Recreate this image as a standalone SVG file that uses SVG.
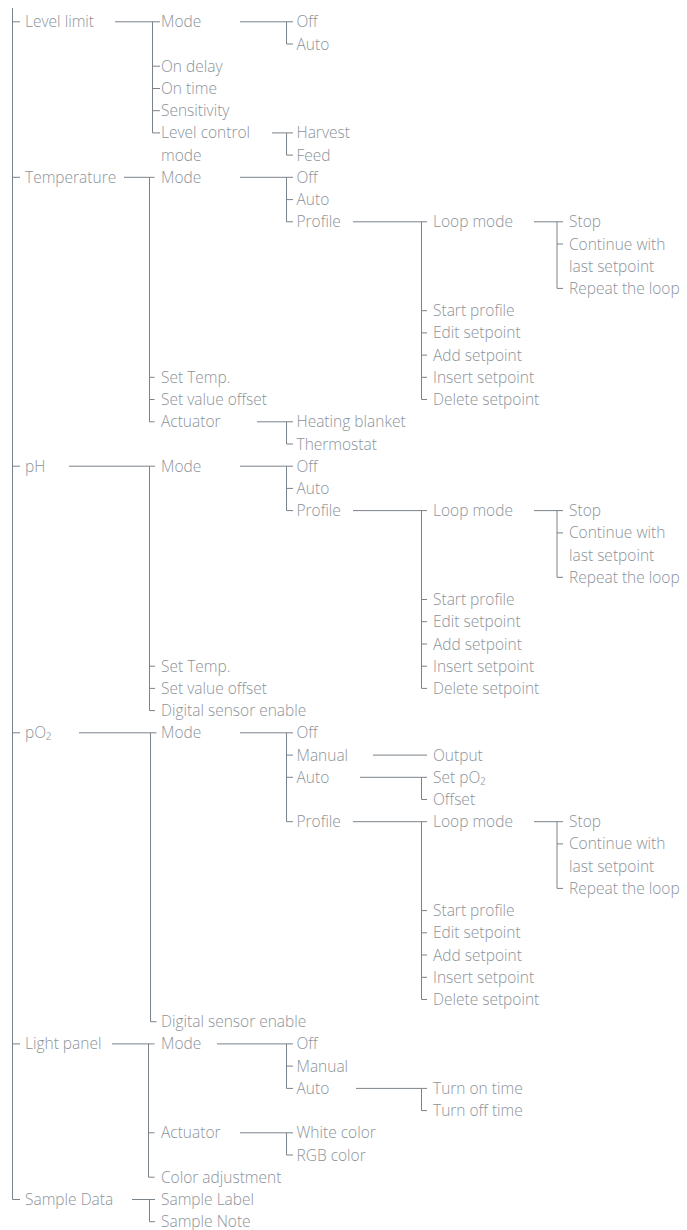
<svg xmlns="http://www.w3.org/2000/svg" width="687" height="1230" viewBox="0 0 687 1230">
<style>
.t{font-family:"Open Sans","Noto Sans","DejaVu Sans",sans-serif;font-size:15.5px;font-weight:300;fill:#8c939a}
.c{stroke:#7b838a;stroke-width:1;fill:none}
</style>
<rect width="687" height="1230" fill="#ffffff"/>
<g id="connectors" class="c">
<path d="M12.5 8V1199.5H20M12.5 21.8H20M12.5 177.3H20M12.5 466.2H20M12.5 732.8H20M12.5 1043.9H20"/>
<path d="M115 21.8H160M152.5 21.8V132.9H160M152.5 66.2H160M152.5 88.5H160M152.5 110.7H160"/>
<path d="M240 21.8H293M286.5 21.8V44H293"/>
<path d="M272 132.9H293M286.5 132.9V155.1H293"/>
<path d="M124 177.3H154.5M149.5 177.3V421.8H154.5M149.5 377.3H154.5M149.5 399.5H154.5"/>
<path d="M240 177.3H293M286.5 177.3V221.8H293M286.5 199.6H293"/>
<path d="M353 221.8H427M421.5 221.8V399.5H427M421.5 310.7H427M421.5 332.9H427M421.5 355.1H427M421.5 377.3H427"/>
<path d="M534 221.8H563M557 221.8V288.4H563M557 244H563"/>
<path d="M257 421.8H293M286.5 421.8V444H293"/>
<path d="M69 466.2H155M149.5 466.2V710.6H155M149.5 666.2H155M149.5 688.4H155"/>
<path d="M240 466.2H293M286.5 466.2V510.6H293M286.5 488.4H293"/>
<path d="M353 510.6H427M421.5 510.6V688.4H427M421.5 599.5H427M421.5 621.7H427M421.5 644H427M421.5 666.2H427"/>
<path d="M534 510.6H563M557 510.6V577.3H563M557 532.9H563"/>
<path d="M79 732.8H156.5M150.5 732.8V1021.7H156.5"/>
<path d="M240 732.8H293M286.5 732.8V821.7H293M286.5 755.1H293M286.5 777.3H293"/>
<path d="M373 755.1H427"/>
<path d="M360 777.3H427M421.5 777.3V799.5H427"/>
<path d="M353 821.7H427M421.5 821.7V999.5H427M421.5 910.6H427M421.5 932.8H427M421.5 955H427M421.5 977.3H427"/>
<path d="M534 821.7H563M557 821.7V888.4H563M557 843.9H563"/>
<path d="M112 1043.9H154.5M148.5 1043.9V1177.2H154.5M148.5 1132.8H154.5"/>
<path d="M217 1043.9H293M286.5 1043.9V1088.4H293M286.5 1066.1H293"/>
<path d="M356 1088.4H427M421.5 1088.4V1110.6H427"/>
<path d="M240 1132.8H293M286.5 1132.8V1155H293"/>
<path d="M132 1199.5H155M149.5 1199.5V1221.7H155"/>
</g>
<g id="level-limit" class="t">
<text x="25" y="27.3">Level limit</text>
<text x="161" y="27.3">Mode</text>
<text x="296.5" y="27.3">Off</text>
<text x="296.5" y="49.5">Auto</text>
<text x="161" y="71.7">On delay</text>
<text x="161" y="94">On time</text>
<text x="161" y="116.2">Sensitivity</text>
<text x="161" y="138.4">Level control</text>
<text x="161" y="160.6">mode</text>
<text x="296.5" y="138.4">Harvest</text>
<text x="296.5" y="160.6">Feed</text>
</g>
<g id="temperature" class="t">
<text x="25" y="182.8">Temperature</text>
<text x="161" y="182.8">Mode</text>
<text x="296.5" y="182.8">Off</text>
<text x="296.5" y="205.1">Auto</text>
<text x="296.5" y="227.3">Profile</text>
<text x="433" y="227.3">Loop mode</text>
<text x="569" y="227.3">Stop</text>
<text x="569" y="249.5">Continue with</text>
<text x="569" y="271.7">last setpoint</text>
<text x="569" y="293.9">Repeat the loop</text>
<text x="433" y="316.2">Start profile</text>
<text x="433" y="338.4">Edit setpoint</text>
<text x="433" y="360.6">Add setpoint</text>
<text x="433" y="382.8">Insert setpoint</text>
<text x="433" y="405">Delete setpoint</text>
<text x="161" y="382.8">Set Temp.</text>
<text x="161" y="405">Set value offset</text>
<text x="161" y="427.3">Actuator</text>
<text x="296.5" y="427.3">Heating blanket</text>
<text x="296.5" y="449.5">Thermostat</text>
</g>
<g id="ph" class="t">
<text x="25" y="471.7">pH</text>
<text x="161" y="471.7">Mode</text>
<text x="296.5" y="471.7">Off</text>
<text x="296.5" y="493.9">Auto</text>
<text x="296.5" y="516.1">Profile</text>
<text x="433" y="516.1">Loop mode</text>
<text x="569" y="516.1">Stop</text>
<text x="569" y="538.4">Continue with</text>
<text x="569" y="560.6">last setpoint</text>
<text x="569" y="582.8">Repeat the loop</text>
<text x="433" y="605">Start profile</text>
<text x="433" y="627.2">Edit setpoint</text>
<text x="433" y="649.5">Add setpoint</text>
<text x="433" y="671.7">Insert setpoint</text>
<text x="433" y="693.9">Delete setpoint</text>
<text x="161" y="671.7">Set Temp.</text>
<text x="161" y="693.9">Set value offset</text>
<text x="161" y="716.1">Digital sensor enable</text>
</g>
<g id="po2" class="t">
<text x="25" y="738.3">pO₂</text>
<text x="161" y="738.3">Mode</text>
<text x="296.5" y="738.3">Off</text>
<text x="296.5" y="760.6">Manual</text>
<text x="433" y="760.6">Output</text>
<text x="296.5" y="782.8">Auto</text>
<text x="433" y="782.8">Set pO₂</text>
<text x="433" y="805">Offset</text>
<text x="296.5" y="827.2">Profile</text>
<text x="433" y="827.2">Loop mode</text>
<text x="569" y="827.2">Stop</text>
<text x="569" y="849.4">Continue with</text>
<text x="569" y="871.7">last setpoint</text>
<text x="569" y="893.9">Repeat the loop</text>
<text x="433" y="916.1">Start profile</text>
<text x="433" y="938.3">Edit setpoint</text>
<text x="433" y="960.5">Add setpoint</text>
<text x="433" y="982.8">Insert setpoint</text>
<text x="433" y="1005">Delete setpoint</text>
<text x="161" y="1027.2">Digital sensor enable</text>
</g>
<g id="light-panel" class="t">
<text x="25" y="1049.4">Light panel</text>
<text x="161" y="1049.4">Mode</text>
<text x="296.5" y="1049.4">Off</text>
<text x="296.5" y="1071.6">Manual</text>
<text x="296.5" y="1093.9">Auto</text>
<text x="433" y="1093.9">Turn on time</text>
<text x="433" y="1116.1">Turn off time</text>
<text x="161" y="1138.3">Actuator</text>
<text x="296.5" y="1138.3">White color</text>
<text x="296.5" y="1160.5">RGB color</text>
<text x="161" y="1182.7">Color adjustment</text>
</g>
<g id="sample-data" class="t">
<text x="25" y="1205">Sample Data</text>
<text x="161" y="1205">Sample Label</text>
<text x="161" y="1227.2">Sample Note</text>
</g>
</svg>
